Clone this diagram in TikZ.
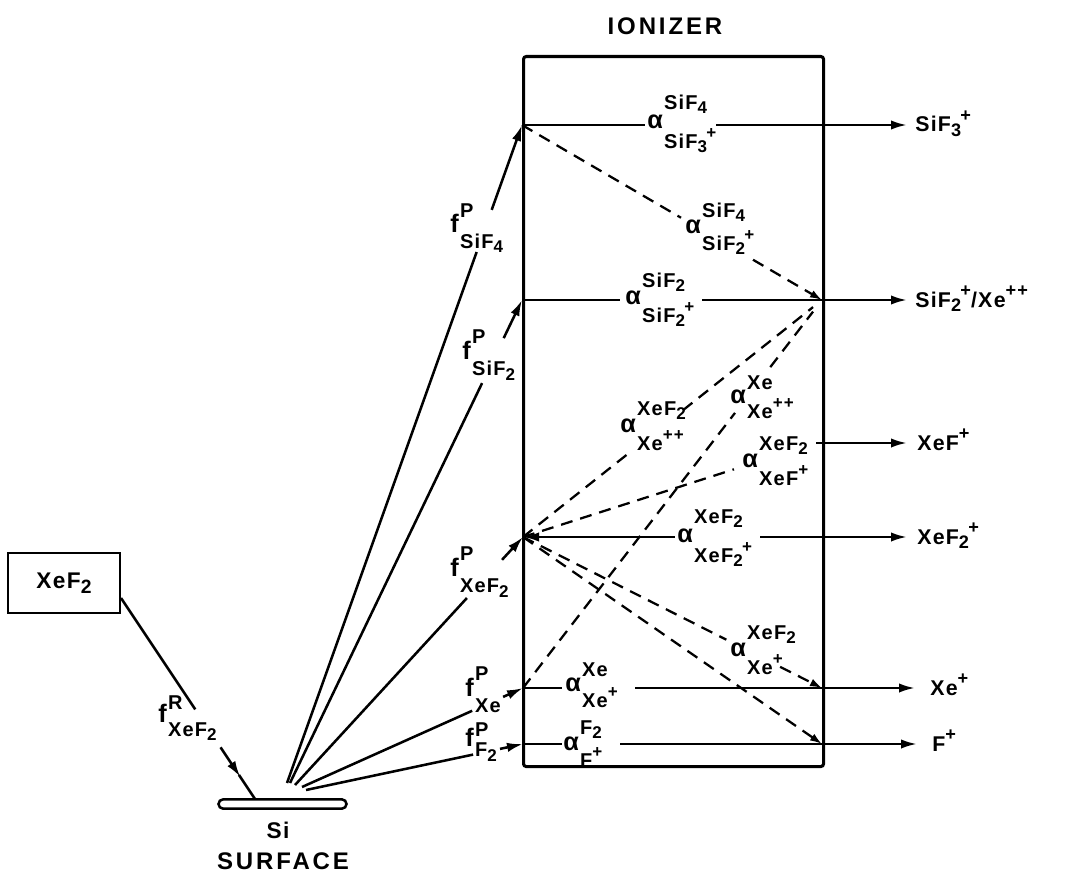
\documentclass[tikz,border=0pt]{standalone}
\usepackage{fontspec}
\setmainfont{Liberation Sans}[LetterSpace=6]
\usepackage{graphicx}
\usetikzlibrary{arrows.meta,calc}
\newcommand{\sbx}[1]{\raisebox{-0.4ex}{\scalebox{0.85}{#1}}}
\newcommand{\spx}[1]{\raisebox{0.9ex}{\scalebox{0.85}{#1}}}
\newcommand{\ssx}[2]{\sbx{#1}\kern-0.5pt\spx{#2}}
\newcommand{\stk}[4][8pt]{{\fontsize{19}{19}\selectfont #2}\kern1pt\begin{tabular}[c]{@{}l@{}}#3\\[#1]#4\end{tabular}}
\tikzset{
  lw/.style={line width=1.9pt},
  solidarrow/.style={line width=1.9pt,-{Latex[length=12pt,width=7pt]}},
  dline/.style={line width=1.7pt,dash pattern=on 9pt off 6pt},
  dtip/.style={-{Latex[length=9pt,width=6pt]}},
  lab/.style={inner sep=0pt,font=\fontsize{15}{18}\selectfont\bfseries,anchor=west},
  ionlab/.style={inner sep=0pt,font=\fontsize{16}{18}\selectfont\bfseries,anchor=base west},
  big/.style={inner sep=0pt,font=\fontsize{18}{18}\selectfont\bfseries\addfontfeature{LetterSpace=12}}
}
\begin{document}
\begin{tikzpicture}[x=0.75pt,y=-0.75pt]
\useasboundingbox (0,0) rectangle (1069,877);
% ionizer box
\node[draw,line width=2.3pt,rounded corners=2pt,minimum width=225pt,minimum height=532.5pt,inner sep=0pt,anchor=north west] (ion) at (522,55) {};
\node[big] (iontitle) at (665,26) {IONIZER};
% source box and surface
\node[draw,line width=2.1pt,minimum width=84pt,minimum height=45pt,inner sep=0pt,font=\fontsize{17}{19}\selectfont\bfseries] (xef2) at (64,583) {XeF\sbx{2}};
\node[draw,line width=1.9pt,rounded corners=3.5pt,minimum width=96pt,minimum height=7pt,inner sep=0pt] (si) at (282.5,804) {};
\node[inner sep=0pt,font=\fontsize{17}{19}\selectfont\bfseries] (silab) at (278,830) {Si};
\node[big] (surf) at (283,861) {SURFACE};
% points
\coordinate (L1) at (522,125); \coordinate (T1) at (907,125);
\coordinate (L2) at (522,300); \coordinate (R2) at (822,300); \coordinate (T2) at (907,300);
\coordinate (R3) at (816,443); \coordinate (T3) at (907,443);
\coordinate (L4) at (523,537); \coordinate (T4) at (907,537);
\coordinate (L5) at (523,688); \coordinate (R5) at (822,688); \coordinate (T5) at (915,688);
\coordinate (L6) at (523,744); \coordinate (R6) at (822,744); \coordinate (T6) at (917,744);
\coordinate (s1) at (287,783); \coordinate (s2) at (290,783); \coordinate (s3) at (295,785);
\coordinate (s4) at (302,787); \coordinate (s5) at (306,790);
\coordinate (P) at (121,598); \coordinate (Q) at (255,799);
% horizontal gap ends
\coordinate (h1a) at (645,125); \coordinate (h1b) at (716,125);
\coordinate (h2a) at (620,300); \coordinate (h2b) at (702,300);
\coordinate (h4a) at (675,537); \coordinate (h4b) at (760,537);
\coordinate (h5a) at (562,688); \coordinate (h5b) at (635,688);
\coordinate (h6a) at (562,744); \coordinate (h6b) at (620,744);
% horizontal lines
\draw[lw] (L1) -- (h1a); \draw[solidarrow] (h1b) -- (T1);
\draw[lw] (L2) -- (h2a); \draw[solidarrow] (h2b) -- (T2);
\draw[solidarrow] (R3) -- (T3);
\draw[lw,{Latex[length=12pt,width=7pt]}-] (L4) -- (h4a); \draw[solidarrow] (h4b) -- (T4);
\draw[lw] (L5) -- (h5a); \draw[solidarrow] (h5b) -- (T5);
\draw[lw] (L6) -- (h6a); \draw[solidarrow] (h6b) -- (T6);
% dashed lines
\draw[dline] (L1) -- ($(L1)!0.53!(R2)$);
\draw[dline,dtip] ($(L1)!0.77!(R2)$) -- (R2);
\draw[dline] (L4) -- ($(L4)!0.354!(R2)$);
\draw[dline] ($(L4)!0.535!(R2)$) -- ($(L4)!0.97!(R2)$);
\draw[dline] (L5) -- ($(L5)!0.709!(R2)$);
\draw[dline] ($(L5)!0.827!(R2)$) -- ($(L5)!0.97!(R2)$);
\draw[dline] (L4) -- ($(L4)!0.72!(R3)$);
\draw[dline] (L4) -- ($(L4)!0.68!(R5)$);
\draw[dline,dtip] ($(L4)!0.86!(R5)$) -- (R5);
\draw[dline,dtip] (L4) -- (R6);
% particle flux arrows from the surface
\draw[lw] (s1) -- ($(s1)!0.807!(L1)$); \draw[solidarrow] ($(s1)!0.871!(L1)$) -- (L1);
\draw[lw] (s2) -- ($(s2)!0.828!(L2)$); \draw[solidarrow] ($(s2)!0.921!(L2)$) -- (L2);
\draw[lw] (s3) -- ($(s3)!0.754!(L4)$); \draw[solidarrow] ($(s3)!0.908!(L4)$) -- (L4);
\draw[lw] (s4) -- ($(s4)!0.77!(L5)$); \draw[solidarrow] ($(s4)!0.91!(L5)$) -- (L5);
\draw[lw] (s5) -- ($(s5)!0.77!(L6)$); \draw[solidarrow] ($(s5)!0.894!(L6)$) -- (L6);
% incident flux
\draw[lw] (P) -- ($(P)!0.554!(Q)$);
\draw[solidarrow] ($(P)!0.743!(Q)$) -- ($(P)!0.89!(Q)$);
\draw[lw] ($(P)!0.88!(Q)$) -- (Q);
% alpha labels
\node[lab] (a1) at (647,124) {\stk[9pt]{α}{SiF\sbx{4}}{SiF\ssx{3}{+}}};
\node[lab] (a2) at (685,229) {\stk[5pt]{α}{SiF\sbx{4}}{SiF\ssx{2}{+}}};
\node[lab] (a3) at (625,300) {\stk[6pt]{α}{SiF\sbx{2}}{SiF\ssx{2}{+}}};
\node[lab] (a4) at (620,428) {\stk[6pt]{α}{XeF\sbx{2}}{Xe\spx{++}}};
\node[lab] (a5) at (730,399) {\stk[2pt]{α}{Xe}{Xe\spx{++}}};
\node[lab] (a6) at (742,463) {\stk[6pt]{α}{XeF\sbx{2}}{XeF\spx{+}}};
\node[lab] (a7) at (677,538) {\stk[9pt]{α}{XeF\sbx{2}}{XeF\ssx{2}{+}}};
\node[lab] (a8) at (730,652) {\stk[6pt]{α}{XeF\sbx{2}}{Xe\spx{+}}};
\node[lab] (a9) at (565,687) {\stk[3pt]{α}{Xe}{Xe\spx{+}}};
\node[lab] (a10) at (563,746) {\stk[5pt]{α}{F\sbx{2}}{F\spx{+}}};
% f labels
\node[lab] (f1) at (450,228) {\stk[5pt]{f}{P}{SiF\sbx{4}}};
\node[lab] (f2) at (462,355) {\stk[6pt]{f}{P}{SiF\sbx{2}}};
\node[lab] (f3) at (450,572) {\stk[6pt]{f}{P}{XeF\sbx{2}}};
\node[lab] (f4) at (465,692) {\stk[6pt]{f}{P}{Xe}};
\node[lab] (f5) at (465,742) {\stk[-3pt]{f}{P}{F\sbx{2}}};
\node[lab] (fr) at (158,718) {\stk[2pt]{f}{R}{XeF\sbx{2}}};
% output ion labels
\node[ionlab] (o1) at (915,132) {SiF\ssx{3}{+}};
\node[ionlab] (o2) at (915,307) {SiF\ssx{2}{+}/Xe\spx{++}};
\node[ionlab] (o3) at (917,450) {XeF\spx{+}};
\node[ionlab] (o4) at (917,544) {XeF\ssx{2}{+}};
\node[ionlab] (o5) at (930,695) {Xe\spx{+}};
\node[ionlab] (o6) at (932,751) {F\spx{+}};
\end{tikzpicture}
\end{document}
